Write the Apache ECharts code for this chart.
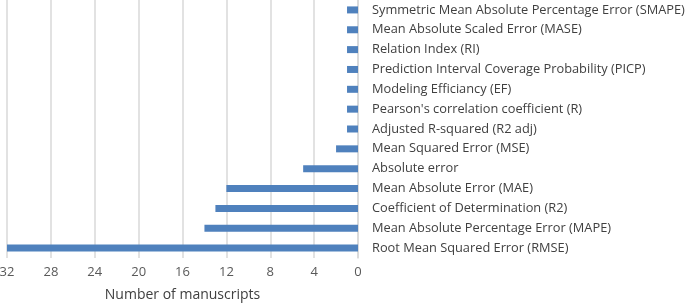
<!DOCTYPE html>
<html><head><meta charset="utf-8">
<script src="https://cdn.jsdelivr.net/npm/echarts@6/dist/echarts.min.js"></script>
<style>html,body{margin:0;padding:0;background:#fff}#c{width:685px;height:303px}</style>
</head><body><div id="c"></div>
<script>
const categories = [
  "Symmetric Mean Absolute Percentage Error (SMAPE)",
  "Mean Absolute Scaled Error (MASE)",
  "Relation Index (RI)",
  "Prediction Interval Coverage Probability (PICP)",
  "Modeling Efficiancy (EF)",
  "Pearson's correlation coefficient (R)",
  "Adjusted R-squared (R2 adj)",
  "Mean Squared Error (MSE)",
  "Absolute error",
  "Mean Absolute Error (MAE)",
  "Coefficient of Determination (R2)",
  "Mean Absolute Percentage Error (MAPE)",
  "Root Mean Squared Error (RMSE)"
];
const values = [1, 1, 1, 1, 1, 1, 1, 2, 5, 12, 13, 14, 32];
const xTicks = { min: 0, max: 32, interval: 4 };
const xTitle = "Number of manuscripts";

const chart = echarts.init(document.getElementById('c'));
const font = "'Open Sans', sans-serif";
chart.setOption({
  animation: false,
  grid: { left: 7, right: 327, top: 0, bottom: 45, containLabel: false, outerBoundsMode: 'none' },
  xAxis: {
    type: 'value', inverse: true, min: xTicks.min, max: xTicks.max, interval: xTicks.interval,
    name: xTitle, nameLocation: 'middle', nameGap: 30,
    nameTextStyle: { fontFamily: font, fontSize: 14, color: '#404040' },
    axisLine: { show: false }, axisTick: { show: false },
    axisLabel: { fontFamily: font, fontSize: 13, color: '#595959', margin: 8 },
    splitLine: { show: true, lineStyle: { color: '#d9d9d9', width: 1.5 } }
  },
  yAxis: {
    type: 'category', data: categories, inverse: true, position: 'right',
    axisLine: { show: true, lineStyle: { color: '#d9d9d9', width: 1.5 } },
    axisTick: { show: false },
    axisLabel: { fontFamily: font, fontSize: 12.8, color: '#404040', align: 'left', margin: 14 }
  },
  series: [{
    type: 'bar', data: values, barWidth: 7,
    itemStyle: { color: '#4f81bd' }
  }]
});
</script></body></html>
